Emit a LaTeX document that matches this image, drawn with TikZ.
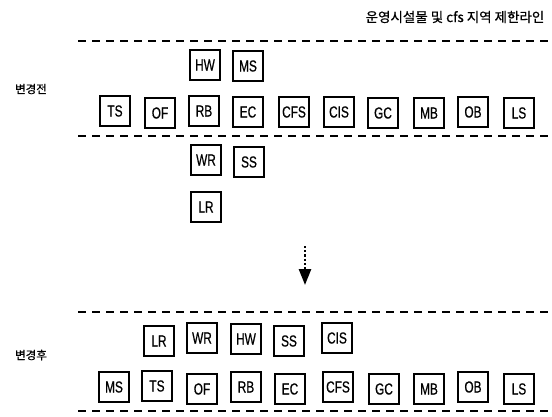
\documentclass[tikz,border=0pt]{standalone}
\usepackage{fontspec}
\usetikzlibrary{arrows.meta}
\newfontfamily\labfont[FakeStretch=0.74,FakeBold=0.6]{Liberation Sans}
\newfontfamily\kofont[FakeBold=0.7]{Noto Sans CJK KR}
\begin{document}
\begin{tikzpicture}[x=1pt,y=-1pt,
  box/.style={draw, line width=1.2pt, minimum width=30pt, minimum height=30pt, inner sep=0pt, font=\labfont\fontsize{16}{16}\selectfont},
  dline/.style={line width=2.8pt, dash pattern=on 8pt off 6pt},
  kotext/.style={font=\kofont\fontsize{11.5}{13}\selectfont, inner sep=0pt},
  dotline/.style={line width=2.6pt, dash pattern=on 2.2pt off 2pt}]
\useasboundingbox (0,0) rectangle (552,416);
% title
\node[kotext, font=\kofont\fontsize{13.5}{15}\selectfont] (title) at (455,17) {운영시설물 및 cfs 지역 제한라인};
% dashed lines
\coordinate (l1a) at (78,41);  \coordinate (l1b) at (552,41);
\coordinate (l2a) at (78,136); \coordinate (l2b) at (552,136);
\coordinate (l3a) at (78,312); \coordinate (l3b) at (552,312);
\coordinate (l4a) at (78,411); \coordinate (l4b) at (552,411);
\draw[dline] (l1a) -- (l1b);
\draw[dline] (l2a) -- (l2b);
\draw[dline] (l3a) -- (l3b);
\draw[dline] (l4a) -- (l4b);
% labels
\node[kotext] (before) at (31,89) {변경전};
\node[kotext] (after) at (31,355) {변경후};
% before
\node[box] (hw1) at (205,65) {HW};
\node[box] (ms1) at (248,66) {MS};
\node[box] (ts1) at (115,111) {TS};
\node[box] (of1) at (160,113) {OF};
\node[box] (rb1) at (204,111) {RB};
\node[box] (ec1) at (248,112) {EC};
\node[box] (cfs1) at (294,112) {CFS};
\node[box] (cis1) at (339,112) {CIS};
\node[box] (gc1) at (383,113) {GC};
\node[box] (mb1) at (429,113) {MB};
\node[box] (ob1) at (473,112) {OB};
\node[box] (ls1) at (519,113) {LS};
\node[box] (wr1) at (206,160) {WR};
\node[box] (ss1) at (249,162) {SS};
\node[box] (lr1) at (206,207) {LR};
% arrow
\coordinate (arA) at (305,246);
\coordinate (arB) at (305,285);
\draw[dotline, -{Triangle[width=12pt,length=16pt]}] (arA) -- (arB);
% after
\node[box] (lr2) at (159,341) {LR};
\node[box] (wr2) at (202,338) {WR};
\node[box] (hw2) at (246,339) {HW};
\node[box] (ss2) at (289,341) {SS};
\node[box] (cis2) at (337,338) {CIS};
\node[box] (ms2) at (114,387) {MS};
\node[box] (ts2) at (157,386) {TS};
\node[box] (of2) at (202,389) {OF};
\node[box] (rb2) at (246,387) {RB};
\node[box] (ec2) at (290,389) {EC};
\node[box] (cfs2) at (338,387) {CFS};
\node[box] (gc2) at (384,389) {GC};
\node[box] (mb2) at (429,389) {MB};
\node[box] (ob2) at (473,387) {OB};
\node[box] (ls2) at (519,389) {LS};
\end{tikzpicture}
\end{document}
